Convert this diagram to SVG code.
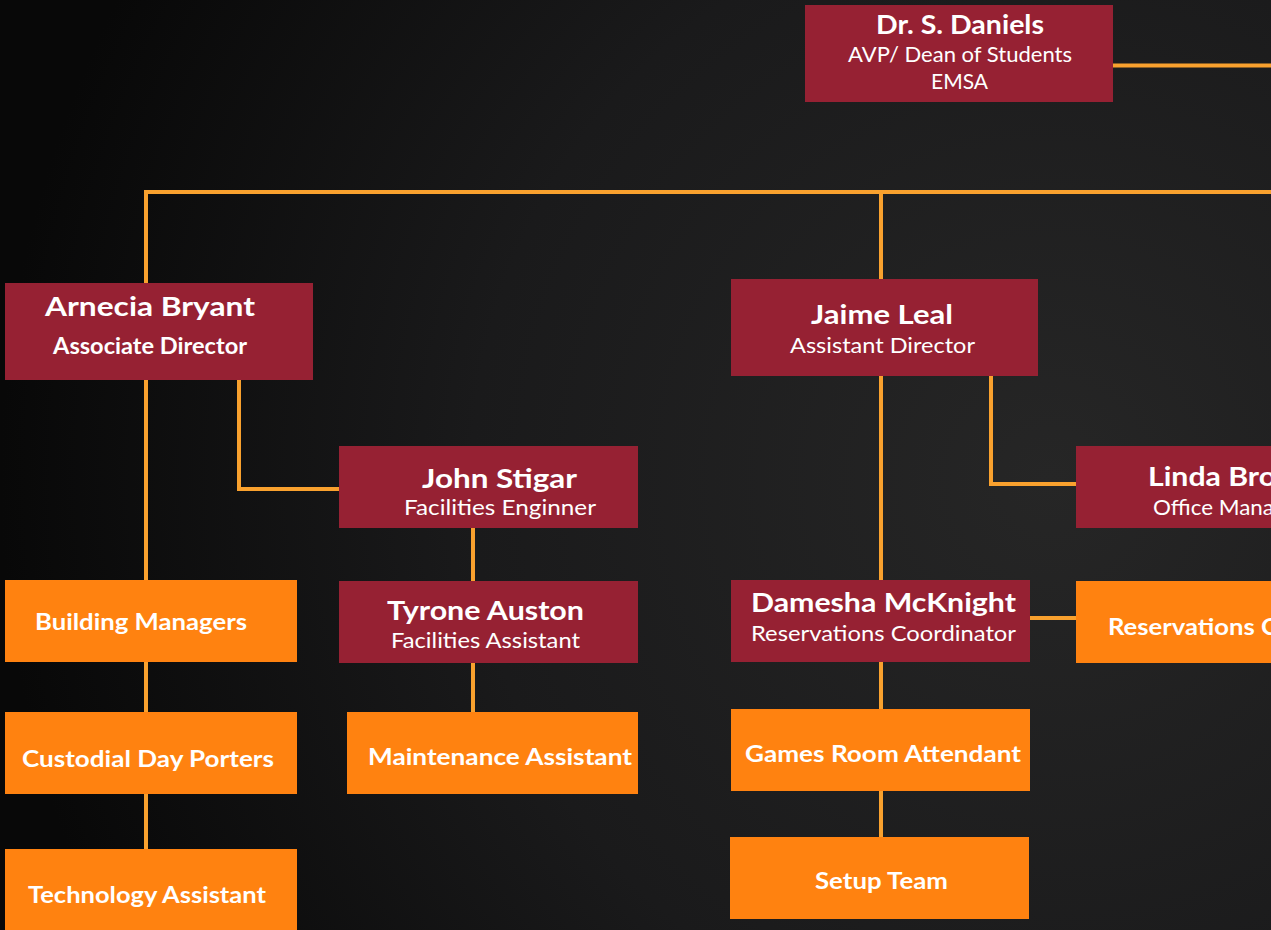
<svg xmlns="http://www.w3.org/2000/svg" width="1271" height="930" viewBox="0 0 1271 930">
<defs>
<radialGradient id="bg" cx="1050" cy="480" r="1050" gradientUnits="userSpaceOnUse">
<stop offset="0" stop-color="#262626"/>
<stop offset="0.55" stop-color="#1a1a1b"/>
<stop offset="1" stop-color="#080808"/>
</radialGradient>
<style>
.m{fill:#962133}
.o{fill:#FF8210}
.c{fill:none;stroke:#F9A12E;stroke-width:4}
text{fill:#ffffff;font-family:Lato,"Open Sans","Liberation Sans",sans-serif}
.n{font-weight:bold;font-size:27px;text-anchor:middle}
.s{font-size:22px;text-anchor:middle}
.sb{font-size:22px;font-weight:bold;text-anchor:middle}
.l{font-weight:bold;font-size:23px;text-anchor:middle}
</style>
</defs>
<rect width="1271" height="930" fill="url(#bg)"/>
<g id="connectors">
<path class="c" d="M1113 65.5 H1275"/>
<path class="c" d="M146 283 V192 H1275"/>
<path class="c" d="M881 192 V279"/>
<path class="c" d="M146 380 V849"/>
<path class="c" d="M239 380 V489 H339"/>
<path class="c" d="M473 528 V712"/>
<path class="c" d="M881 376 V837"/>
<path class="c" d="M991 376 V484 H1076"/>
<path class="c" d="M1030 618 H1076"/>
</g>
<g id="daniels">
<rect class="m" x="805" y="5" width="308" height="97"/>
<text class="n" x="960" y="34" textLength="168" lengthAdjust="spacingAndGlyphs">Dr. S. Daniels</text>
<text class="s" x="960" y="62" textLength="224" lengthAdjust="spacingAndGlyphs">AVP/ Dean of Students</text>
<text class="s" x="959.5" y="89" textLength="57" lengthAdjust="spacingAndGlyphs">EMSA</text>
</g>
<g id="bryant">
<rect class="m" x="5" y="283" width="308" height="97"/>
<text class="n" x="150" y="316" textLength="210" lengthAdjust="spacingAndGlyphs">Arnecia Bryant</text>
<text class="sb" x="150" y="354" textLength="194" lengthAdjust="spacingAndGlyphs">Associate Director</text>
</g>
<g id="stigar">
<rect class="m" x="339" y="446" width="299" height="82"/>
<text class="n" x="499.5" y="488" textLength="155" lengthAdjust="spacingAndGlyphs">John Stigar</text>
<text class="s" x="500" y="515" textLength="192" lengthAdjust="spacingAndGlyphs">Facilities Enginner</text>
</g>
<g id="auston">
<rect class="m" x="339" y="581" width="299" height="82"/>
<text class="n" x="485.5" y="620" textLength="197" lengthAdjust="spacingAndGlyphs">Tyrone Auston</text>
<text class="s" x="485.5" y="648" textLength="189" lengthAdjust="spacingAndGlyphs">Facilities Assistant</text>
</g>
<g id="maintenance">
<rect class="o" x="347" y="712" width="291" height="82"/>
<text class="l" x="500" y="765" textLength="264" lengthAdjust="spacingAndGlyphs">Maintenance Assistant</text>
</g>
<g id="building">
<rect class="o" x="5" y="580" width="292" height="82"/>
<text class="l" x="141" y="630" textLength="212" lengthAdjust="spacingAndGlyphs">Building Managers</text>
</g>
<g id="custodial">
<rect class="o" x="5" y="712" width="292" height="82"/>
<text class="l" x="148" y="767" textLength="252" lengthAdjust="spacingAndGlyphs">Custodial Day Porters</text>
</g>
<g id="technology">
<rect class="o" x="5" y="849" width="292" height="90"/>
<text class="l" x="147" y="903" textLength="238" lengthAdjust="spacingAndGlyphs">Technology Assistant</text>
</g>
<g id="leal">
<rect class="m" x="731" y="279" width="307" height="97"/>
<text class="n" x="882" y="324" textLength="142" lengthAdjust="spacingAndGlyphs">Jaime Leal</text>
<text class="s" x="882.5" y="353" textLength="185" lengthAdjust="spacingAndGlyphs">Assistant Director</text>
</g>
<g id="linda">
<rect class="m" x="1076" y="446" width="200" height="82"/>
<text x="1148" y="486" font-weight="bold" font-size="27" textLength="128" lengthAdjust="spacingAndGlyphs">Linda Bro</text>
<text x="1153" y="515" font-size="22" textLength="121" lengthAdjust="spacingAndGlyphs">Office Mana</text>
</g>
<g id="mcknight">
<rect class="m" x="731" y="580" width="299" height="82"/>
<text class="n" x="883.5" y="612" textLength="265" lengthAdjust="spacingAndGlyphs">Damesha McKnight</text>
<text class="s" x="883.5" y="641" textLength="265" lengthAdjust="spacingAndGlyphs">Reservations Coordinator</text>
</g>
<g id="reservations">
<rect class="o" x="1076" y="581" width="200" height="82"/>
<text x="1108" y="635" font-weight="bold" font-size="23" textLength="170" lengthAdjust="spacingAndGlyphs">Reservations C</text>
</g>
<g id="games">
<rect class="o" x="731" y="709" width="299" height="82"/>
<text class="l" x="883" y="762" textLength="276" lengthAdjust="spacingAndGlyphs">Games Room Attendant</text>
</g>
<g id="setup">
<rect class="o" x="730" y="837" width="299" height="82"/>
<text class="l" x="881.5" y="889" textLength="133" lengthAdjust="spacingAndGlyphs">Setup Team</text>
</g>
</svg>
